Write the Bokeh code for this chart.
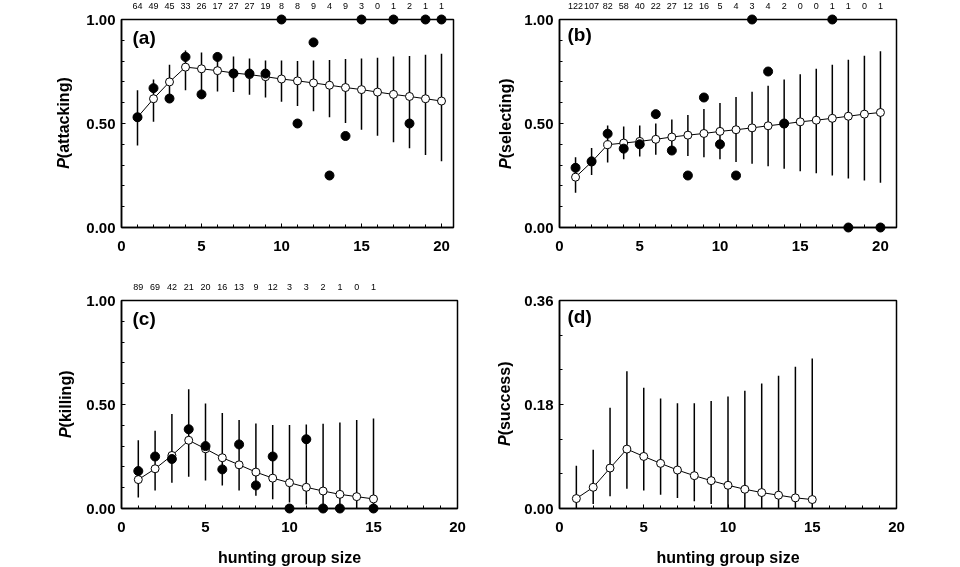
import math
from bokeh.plotting import figure
from bokeh.layouts import row, column
from bokeh.models import (Range1d, FixedTicker, PrintfTickFormatter, Label,
                          LinearAxis, ColumnDataSource)
from bokeh.embed import file_html
from bokeh.resources import INLINE
from bokeh.core.properties import value

FONT = "Liberation Sans"
NaN = float("nan")

# ---------------- data ----------------
size_20 = list(range(1, 21))
size_15 = list(range(1, 16))

# (a) P(attacking)
n_attack = [64, 49, 45, 33, 26, 17, 27, 27, 19, 8, 8, 9, 4, 9, 3, 0, 1, 2, 1, 1]
obs_attack = [0.53, 0.67, 0.62, 0.82, 0.64, 0.82, 0.74, 0.74, 0.74, 1.00,
              0.50, 0.89, 0.25, 0.44, 1.00, NaN, 1.00, 0.50, 1.00, 1.00]
fit_attack = [0.530, 0.619, 0.700, 0.771, 0.763, 0.754, 0.743, 0.735, 0.725, 0.714,
              0.705, 0.695, 0.684, 0.673, 0.663, 0.651, 0.640, 0.630, 0.619, 0.608]
lo_attack = [0.394, 0.508, 0.616, 0.660, 0.648, 0.654, 0.651, 0.638, 0.625, 0.605,
             0.584, 0.559, 0.530, 0.502, 0.470, 0.441, 0.410, 0.381, 0.349, 0.319]
hi_attack = [0.660, 0.711, 0.783, 0.851, 0.841, 0.841, 0.822, 0.813, 0.803, 0.803,
             0.800, 0.803, 0.805, 0.810, 0.813, 0.816, 0.822, 0.825, 0.830, 0.835]

# (b) P(selecting)
n_select = [122, 107, 82, 58, 40, 22, 27, 12, 16, 5, 4, 3, 4, 2, 0, 0, 1, 1, 0, 1]
obs_select = [0.287, 0.318, 0.451, 0.379, 0.400, 0.545, 0.370, 0.250, 0.625, 0.400,
              0.250, 1.000, 0.750, 0.500, NaN, NaN, 1.000, 0.000, NaN, 0.000]
fit_select = [0.242, 0.315, 0.398, 0.406, 0.414, 0.424, 0.435, 0.444, 0.452, 0.462,
              0.470, 0.479, 0.489, 0.498, 0.508, 0.516, 0.525, 0.535, 0.545, 0.553]
lo_select = [0.167, 0.252, 0.312, 0.328, 0.341, 0.350, 0.354, 0.344, 0.338, 0.328,
             0.315, 0.307, 0.295, 0.283, 0.271, 0.261, 0.250, 0.236, 0.226, 0.215]
hi_select = [0.338, 0.382, 0.490, 0.486, 0.490, 0.500, 0.519, 0.541, 0.570, 0.599,
             0.627, 0.653, 0.682, 0.712, 0.737, 0.763, 0.783, 0.806, 0.826, 0.847]

# (c) P(killing)
n_kill = [89, 69, 42, 21, 20, 16, 13, 9, 12, 3, 3, 2, 1, 0, 1]
obs_kill = [0.180, 0.250, 0.238, 0.381, 0.300, 0.188, 0.308, 0.111, 0.250, 0.000,
            0.333, 0.000, 0.000, NaN, 0.000]
fit_kill = [0.139, 0.191, 0.255, 0.328, 0.287, 0.244, 0.210, 0.175, 0.146, 0.124,
            0.102, 0.084, 0.068, 0.057, 0.046]
lo_kill = [0.053, 0.086, 0.124, 0.153, 0.135, 0.111, 0.086, 0.061, 0.045, 0.029,
           0.019, 0.010, 0.006, 0.003, 0.003]
hi_kill = [0.328, 0.374, 0.454, 0.573, 0.505, 0.459, 0.425, 0.409, 0.401, 0.401,
           0.404, 0.408, 0.414, 0.425, 0.433]

# (d) P(success)
fit_success = [0.0172, 0.0367, 0.0700, 0.1028, 0.0901, 0.0781, 0.0666, 0.0568,
               0.0482, 0.0402, 0.0333, 0.0276, 0.0230, 0.0184, 0.0155]
lo_success = [0.000, 0.008, 0.021, 0.034, 0.031, 0.024, 0.018, 0.0126,
              0.008, 0.001, 0.000, 0.000, 0.000, 0.000, 0.000]
hi_success = [0.0741, 0.1016, 0.1745, 0.2377, 0.2090, 0.1906, 0.1820, 0.1820,
              0.1860, 0.1940, 0.2038, 0.2165, 0.2297, 0.2452, 0.2595]

x_ticks = [0, 5, 10, 15, 20]
x_minor = list(range(0, 21))
p_ticks = [0.0, 0.5, 1.0]
p_minor = [i / 10 for i in range(11)]
s_ticks = [0.0, 0.18, 0.36]
s_minor = [0.0, 0.06, 0.12, 0.18, 0.24, 0.30, 0.36]


def make_panel(letter, word, xs, fit, lo, hi, obs, counts, x_end, y_end,
               y_major, y_minor, width, height, b_left, b_right, b_top, b_bottom,
               xlabel, letter_dx, letter_dy, ylab_dx, ylab_shift):
    fh = height - b_top - b_bottom
    p = figure(width=width, height=height,
               x_range=Range1d(0, x_end), y_range=Range1d(0, y_end),
               output_backend="svg", toolbar_location=None,
               min_border_left=b_left, min_border_right=b_right,
               min_border_top=b_top, min_border_bottom=b_bottom)
    p.background_fill_color = "white"
    p.border_fill_color = "white"
    p.outline_line_color = "black"
    p.outline_line_width = 1.5
    p.xgrid.visible = False
    p.ygrid.visible = False

    p.xaxis.ticker = FixedTicker(ticks=x_ticks, minor_ticks=x_minor)
    p.yaxis.ticker = FixedTicker(ticks=y_major, minor_ticks=y_minor)
    p.yaxis.formatter = PrintfTickFormatter(format="%.2f")
    for ax in (p.xaxis[0], p.yaxis[0]):
        ax.axis_line_width = 1.5
        ax.major_tick_in = 4
        ax.major_tick_out = 0
        ax.minor_tick_in = 3
        ax.minor_tick_out = 0
        ax.major_tick_line_width = 1
        ax.minor_tick_line_width = 1
        ax.major_label_text_font = FONT
        ax.major_label_text_font_style = "bold"
        ax.major_label_text_font_size = "15px"
        ax.major_label_text_color = "black"
    p.xaxis.major_label_standoff = 13
    p.yaxis.major_label_standoff = 6
    if xlabel:
        p.xaxis.axis_label = xlabel
        p.xaxis.axis_label_text_font = FONT
        p.xaxis.axis_label_text_font_style = "bold"
        p.xaxis.axis_label_text_font_size = "16px"
        p.xaxis.axis_label_text_color = "black"
        p.xaxis.axis_label_standoff = 14

    # sample sizes along the top edge
    if counts is not None:
        top = LinearAxis(ticker=FixedTicker(ticks=xs, minor_ticks=[]),
                         major_label_overrides={x: str(c) for x, c in zip(xs, counts)})
        top.axis_line_color = None
        top.major_tick_line_color = None
        top.minor_tick_line_color = None
        top.major_tick_in = 0
        top.major_tick_out = 0
        top.major_label_standoff = 11
        top.major_label_text_font = FONT
        top.major_label_text_font_size = "9px"
        top.major_label_text_color = "black"
        p.add_layout(top, "above")

    src = ColumnDataSource(dict(x=xs, fit=fit, lo=lo, hi=hi))
    p.segment(x0="x", y0="lo", x1="x", y1="hi", source=src,
              line_color="black", line_width=1.5)
    p.line("x", "fit", source=src, line_color="black", line_width=1)
    p.scatter("x", "fit", source=src, size=8, fill_color="white",
              line_color="black", line_width=1)

    if obs is not None:
        ox = [x for x, v in zip(xs, obs) if not math.isnan(v)]
        oy = [v for v in obs if not math.isnan(v)]
        r = p.scatter(ox, oy, size=9, fill_color="black", line_color="black")
        r.level = "overlay"

    p.add_layout(Label(x=0, y=y_end - letter_dy * y_end / fh, x_offset=letter_dx,
                       text=letter, text_align="left", text_baseline="top",
                       text_font=FONT, text_font_style="bold",
                       text_font_size="19px", text_color="black"))

    # y-axis title with italic P (text glyphs drawn unclipped at overlay level)
    y_anchor = y_end / 2 - ylab_shift * y_end / fh
    for txt, align, style in (("P", "right", "bold italic"), (word, "left", "bold")):
        t = p.text(x=[0], y=[y_anchor], text=[txt], x_offset=ylab_dx,
                   angle=math.pi / 2, text_align=align, text_baseline="middle",
                   text_font=value(FONT), text_font_style=value(style),
                   text_font_size=value("16px"), text_color="black")
        t.level = "overlay"
    return p


pa = make_panel("(a)", "(attacking)", size_20, fit_attack, lo_attack, hi_attack,
                obs_attack, n_attack, 20.75, 1.0, p_ticks, p_minor,
                472, 266, 113, 27, 25, 31, None, 11, 8, -58, 35)
pb = make_panel("(b)", "(selecting)", size_20, fit_select, lo_select, hi_select,
                obs_select, n_select, 21.0, 1.0, p_ticks, p_minor,
                436, 266, 79, 20, 27, 30, None, 8, 5, -54, 35)
pc = make_panel("(c)", "(killing)", size_15, fit_kill, lo_kill, hi_kill,
                obs_kill, n_kill, 20.0, 1.0, p_ticks, p_minor,
                472, 314, 113, 23, 41, 64, "hunting group size", 11, 8, -56, 23)
pd = make_panel("(d)", "(success)", size_15, fit_success, lo_success, hi_success,
                None, None, 20.0, 0.36, s_ticks, s_minor,
                436, 314, 79, 20, 42, 63, "hunting group size", 8, 6, -55, 31)

layout = column(row(pa, pb), row(pc, pd),
                styles={"position": "fixed", "top": "-8px", "left": "8px"})

with open("out.html", "w") as f:
    f.write(file_html(layout, INLINE))
